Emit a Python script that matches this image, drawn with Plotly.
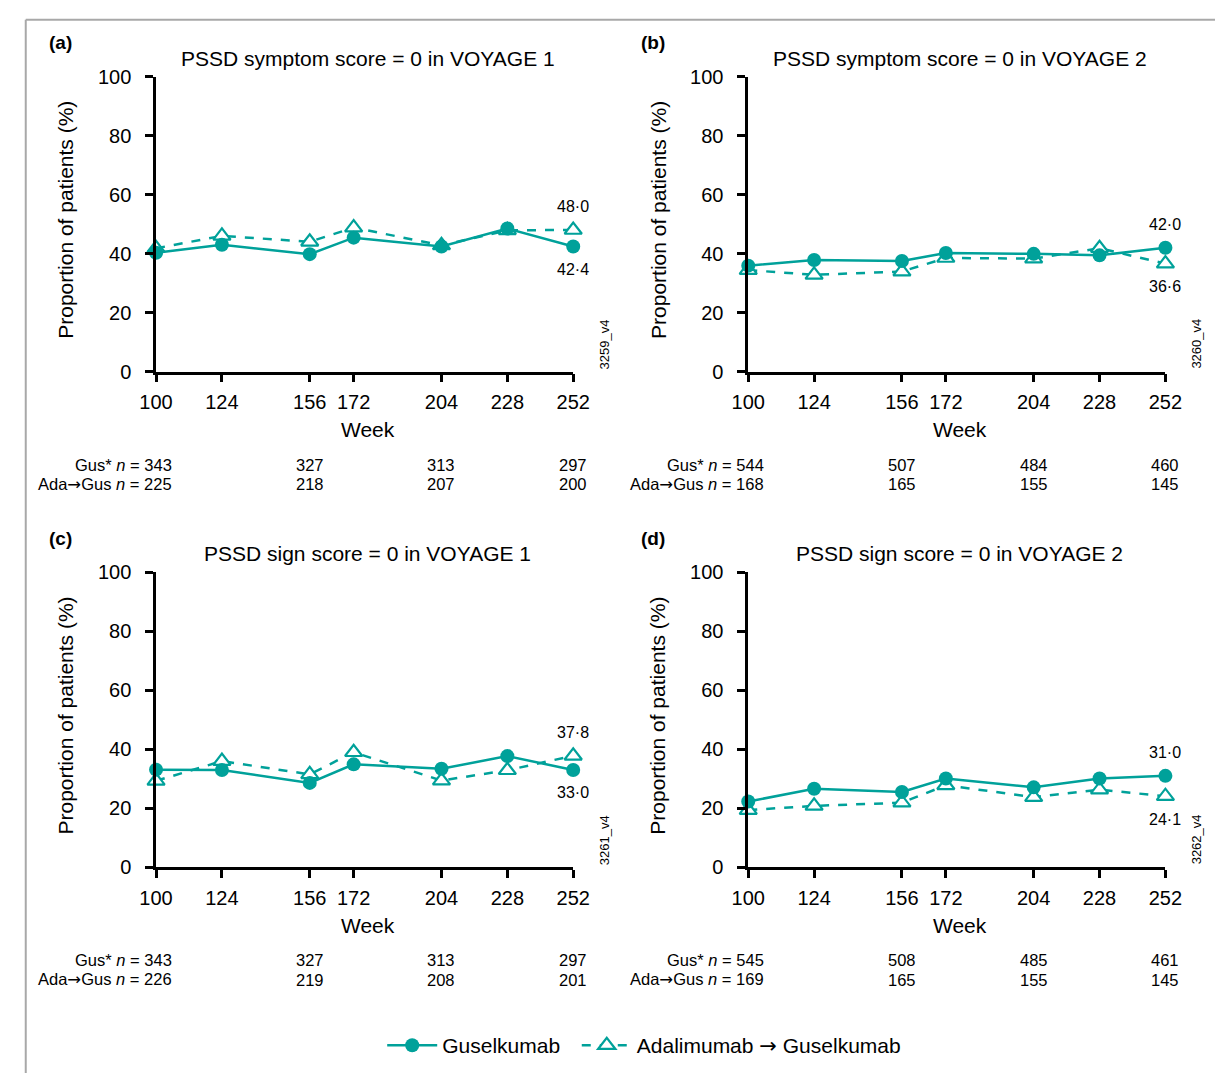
import plotly.graph_objects as go

# ---------------- data ----------------
weeks = [100, 124, 156, 172, 204, 228, 252]

gus_a = [40.3, 43.0, 39.8, 45.4, 42.4, 48.5, 42.4]
ada_a = [41.8, 46.0, 44.0, 48.8, 42.8, 47.9, 48.0]
gus_b = [35.9, 37.8, 37.5, 40.2, 39.9, 39.4, 42.0]
ada_b = [34.4, 32.8, 33.9, 38.5, 38.3, 41.8, 36.6]
gus_c = [33.1, 33.0, 28.6, 34.9, 33.4, 37.7, 33.0]
ada_c = [29.3, 36.0, 31.5, 39.0, 29.4, 32.9, 37.8]
gus_d = [22.3, 26.6, 25.5, 30.1, 27.1, 30.1, 31.0]
ada_d = [19.4, 20.8, 21.9, 27.8, 23.8, 26.3, 24.1]

n_weeks = [100, 156, 204, 252]
gus_n_a = [343, 327, 313, 297]
ada_n_a = [225, 218, 207, 200]
gus_n_b = [544, 507, 484, 460]
ada_n_b = [168, 165, 155, 145]
gus_n_c = [343, 327, 313, 297]
ada_n_c = [226, 219, 208, 201]
gus_n_d = [545, 508, 485, 461]
ada_n_d = [169, 165, 155, 145]

panel_letters = ["(a)", "(b)", "(c)", "(d)"]
panel_titles = [
    "PSSD symptom score = 0 in VOYAGE 1",
    "PSSD symptom score = 0 in VOYAGE 2",
    "PSSD sign score = 0 in VOYAGE 1",
    "PSSD sign score = 0 in VOYAGE 2",
]
version_codes = ["3259_v4", "3260_v4", "3261_v4", "3262_v4"]
y_ticks = [0, 20, 40, 60, 80, 100]
ARROW = '<span style="font-family:DejaVu Sans">\u2192</span>'
series_names = ["Guselkumab\u00a0\u00a0", "Adalimumab " + ARROW + " Guselkumab"]

# ---------------- layout helpers ----------------
W, H = 1232, 1084


def px(X):
    return X / W


def py(Y):
    return (H - Y) / H


TEAL = "#00A19A"
FONT = "Liberation Sans, Arial, Helvetica, sans-serif"

# pixel frames (page coords): (x_left, x_right, y_top, y_bottom)
frames = [
    (143, 572, 67, 368),
    (752, 1181, 67, 368),
    (143, 572, 573, 874),
    (752, 1181, 573, 874),
]

panels = [
    (gus_a, ada_a, gus_n_a, ada_n_a, "top_ada"),
    (gus_b, ada_b, gus_n_b, ada_n_b, "top_gus"),
    (gus_c, ada_c, gus_n_c, ada_n_c, "top_ada"),
    (gus_d, ada_d, gus_n_d, ada_n_d, "top_gus"),
]

fig = go.Figure()
annotations = []
layout_axes = {}

for i, (frame, (gus, ada, gn, an, order)) in enumerate(zip(frames, panels)):
    k = "" if i == 0 else str(i + 1)
    xa, ya = "x" + k, "y" + k
    x0, x1, y0, y1 = frame

    layout_axes["xaxis" + k] = dict(
        domain=[px(x0), px(x1)], anchor=ya, range=[100, 252],
        tickvals=weeks, ticktext=[str(w) for w in weeks],
        ticks="outside", ticklen=8, tickwidth=2.5, tickcolor="black",
        showline=True, linewidth=2.5, linecolor="black",
        showgrid=False, zeroline=False, fixedrange=True,
        tickfont=dict(size=20, color="black", family=FONT),
        ticklabelstandoff=3,
    )
    layout_axes["yaxis" + k] = dict(
        domain=[py(y1), py(y0)], anchor=xa, range=[0, 100],
        tickvals=y_ticks, ticks="outside", ticklen=8, tickwidth=2.5,
        tickcolor="black", showline=True, linewidth=2.5, linecolor="black",
        showgrid=False, zeroline=False, fixedrange=True,
        tickfont=dict(size=20, color="black", family=FONT),
        ticklabelstandoff=10,
    )

    # Ada first (below), then Gus
    fig.add_trace(go.Scatter(
        x=weeks, y=ada, xaxis=xa, yaxis=ya, mode="lines+markers",
        name=series_names[1], legendrank=2, showlegend=(i == 0),
        line=dict(color=TEAL, width=2.5, dash="dash"),
        marker=dict(symbol="triangle-up", size=15, color="white",
                    line=dict(color=TEAL, width=2.2)),
        cliponaxis=False,
    ))
    fig.add_trace(go.Scatter(
        x=weeks, y=gus, xaxis=xa, yaxis=ya, mode="lines+markers",
        name=series_names[0], legendrank=1, showlegend=(i == 0),
        line=dict(color=TEAL, width=2.5),
        marker=dict(symbol="circle", size=14, color=TEAL),
        cliponaxis=False,
    ))

    # end-value labels
    top_val, bot_val = (ada[-1], gus[-1]) if order == "top_ada" else (gus[-1], ada[-1])
    for val, shift in ((top_val, 23), (bot_val, -23)):
        annotations.append(dict(
            x=weeks[-1], y=val, xref=xa, yref=ya, yshift=shift,
            text=f"{val:.1f}".replace(".", "\u00b7"), showarrow=False,
            font=dict(size=16, color="black", family=FONT),
            xanchor="center", yanchor="middle",
        ))

    xc = (x0 + x1) / 2 + 3
    # title
    annotations.append(dict(
        x=px(xc), y=py(y0 - 19), xref="paper", yref="paper",
        text=panel_titles[i], showarrow=False,
        font=dict(size=21, color="black", family=FONT),
        xanchor="center", yanchor="middle",
    ))
    # panel letter
    annotations.append(dict(
        x=px(x0 - 112), y=py(y0 - 35), xref="paper", yref="paper",
        text="<b>" + panel_letters[i] + "</b>", showarrow=False,
        font=dict(size=19, color="black", family=FONT),
        xanchor="left", yanchor="middle",
    ))
    # y title
    annotations.append(dict(
        x=px(x0 - 93), y=py((y0 + y1) / 2 - 4), xref="paper", yref="paper",
        text="Proportion of patients (%)", showarrow=False, textangle=-90,
        font=dict(size=21, color="black", family=FONT),
        xanchor="center", yanchor="middle",
    ))
    # x title
    annotations.append(dict(
        x=px(xc), y=py(y1 + 59), xref="paper", yref="paper",
        text="Week", showarrow=False,
        font=dict(size=21, color="black", family=FONT),
        xanchor="center", yanchor="middle",
    ))
    # version code
    annotations.append(dict(
        x=px(x1 + 32), y=py(y1 - 28), xref="paper", yref="paper",
        text=version_codes[i], showarrow=False, textangle=-90,
        font=dict(size=13, color="black", family=FONT),
        xanchor="center", yanchor="middle",
    ))
    # n rows
    for row_vals, prefix, dy in ((gn, "Gus* <i>n</i> = ", 95),
                                 (an, "Ada" + ARROW + "Gus <i>n</i> = ", 115)):
        for j, (wk, v) in enumerate(zip(n_weeks, row_vals)):
            if j == 0:
                annotations.append(dict(
                    x=wk, xref=xa, xshift=18, y=py(y1 + dy), yref="paper",
                    text=prefix + str(v), showarrow=False,
                    font=dict(size=16.5, color="black", family=FONT),
                    xanchor="right", yanchor="middle",
                ))
            else:
                annotations.append(dict(
                    x=wk, xref=xa, y=py(y1 + dy), yref="paper",
                    text=str(v), showarrow=False,
                    font=dict(size=16.5, color="black", family=FONT),
                    xanchor="center", yanchor="middle",
                ))

shapes = [
    dict(type="line", xref="paper", yref="paper", x0=px(9), x1=1.0, y0=py(9), y1=py(9),
         line=dict(color="#A8A8A8", width=2)),
    dict(type="line", xref="paper", yref="paper", x0=px(9), x1=px(9), y0=0.0, y1=py(9),
         line=dict(color="#A8A8A8", width=2)),
]

fig.update_layout(
    width=W, height=H, margin=dict(l=0, r=0, t=0, b=0),
    paper_bgcolor="white", plot_bgcolor="white",
    font=dict(family=FONT, color="black"),
    annotations=annotations, shapes=shapes,
    showlegend=True,
    legend=dict(orientation="h", x=px(645), xanchor="center", y=py(1056), yanchor="middle",
                font=dict(size=21, color="black", family=FONT),
                itemwidth=50, bgcolor="rgba(0,0,0,0)"),
    **layout_axes,
)

post = ("document.documentElement.style.margin='0';document.body.style.margin='0';"
        "document.documentElement.style.overflow='hidden';document.body.style.overflow='hidden';")
fig.write_html("out.html", post_script=post, config={"displayModeBar": False})
